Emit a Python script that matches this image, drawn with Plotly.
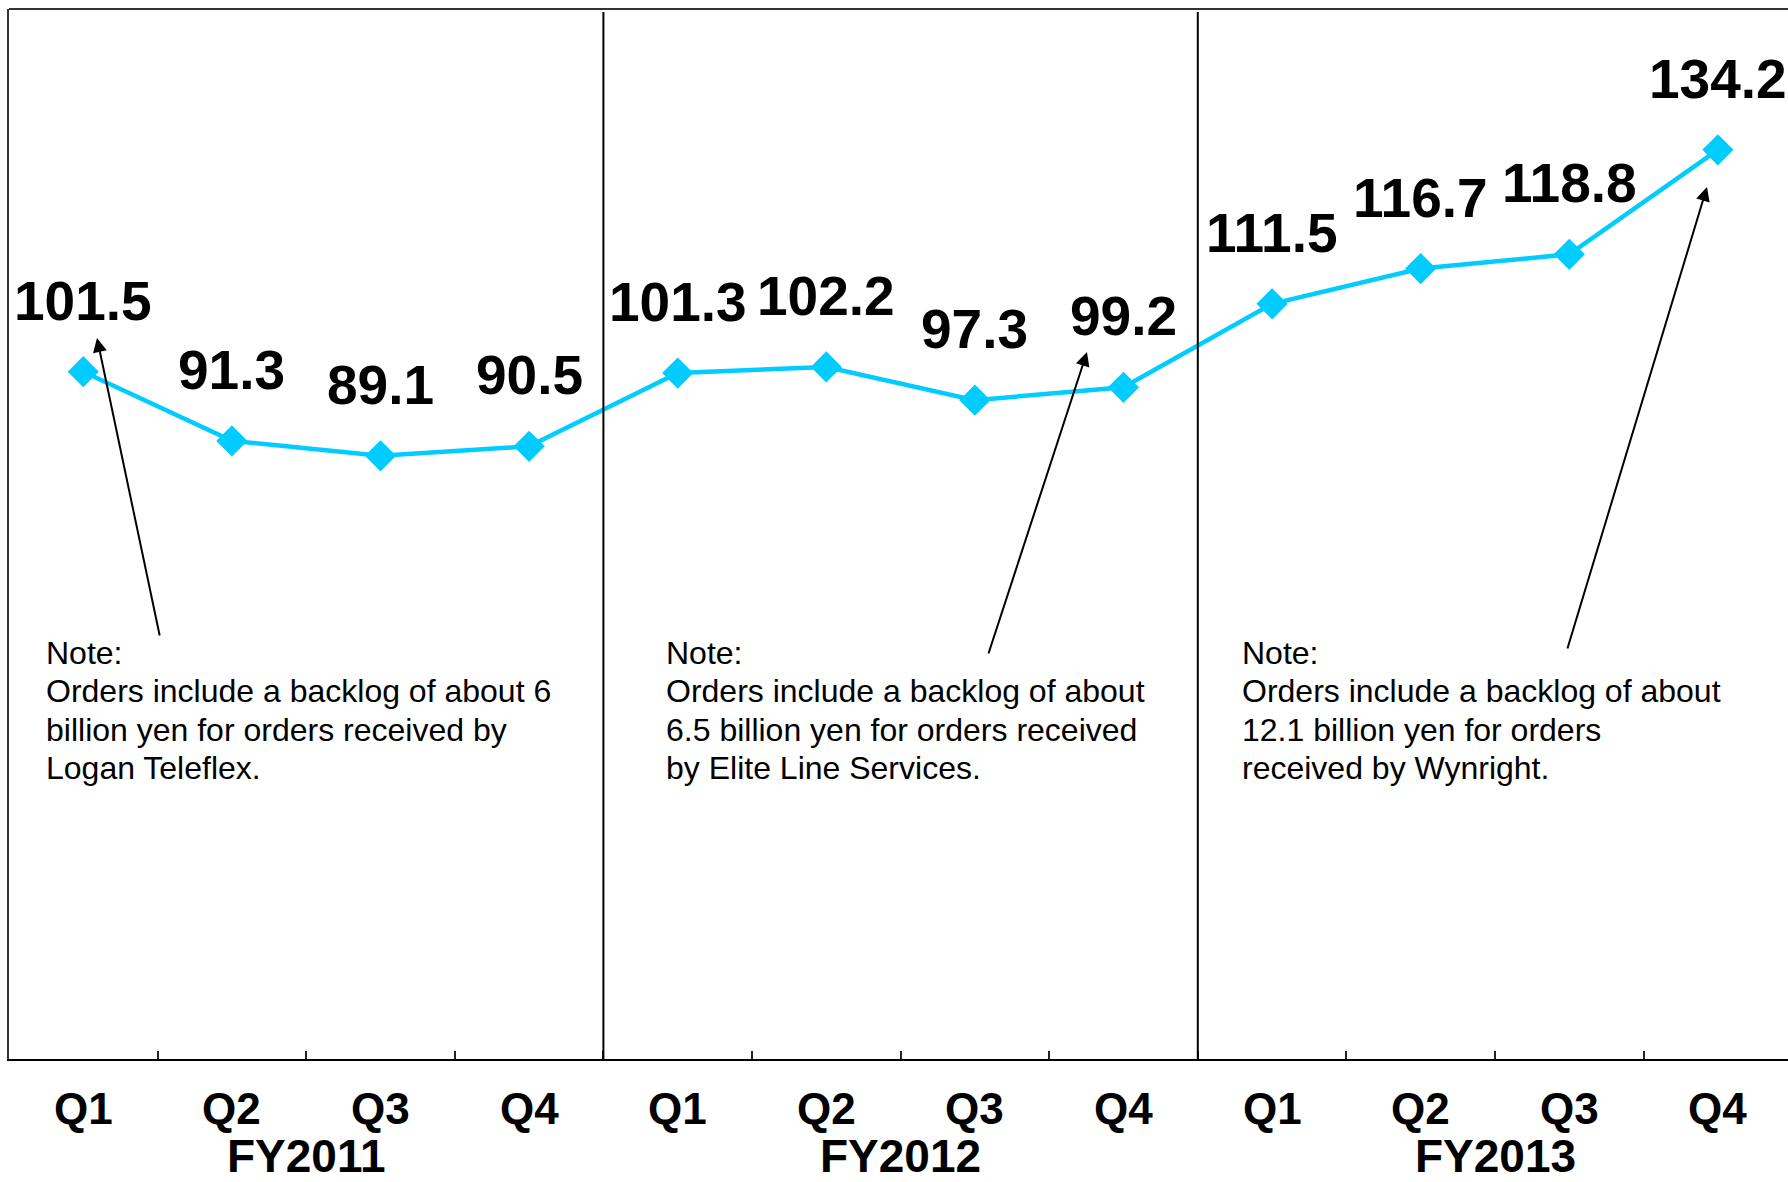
import plotly.graph_objects as go

# Quarterly orders received (billion yen)
quarters = ["Q1", "Q2", "Q3", "Q4", "Q1", "Q2", "Q3", "Q4", "Q1", "Q2", "Q3", "Q4"]
fiscal_years = ["FY2011", "FY2012", "FY2013"]
orders = [101.5, 91.3, 89.1, 90.5, 101.3, 102.2, 97.3, 99.2, 111.5, 116.7, 118.8, 134.2]

note_lines = [
    ["Note:", "Orders include a backlog of about 6",
     "billion yen for orders received by", "Logan Teleflex."],
    ["Note:", "Orders include a backlog of about",
     "6.5 billion yen for orders received", "by Elite Line Services."],
    ["Note:", "Orders include a backlog of about",
     "12.1 billion yen for orders", "received by Wynright."],
]

W, H = 1788, 1182
ML, MR, MT, MB = 9, 0, 9, 123
PW, PH = W - ML - MR, H - MT - MB
STEP = 148.6                      # pixels per quarter
PX_PER_UNIT = 6.785               # pixels per billion yen
X_RANGE = [-0.5, -0.5 + PW / STEP]
Y_RANGE = [0.2, 0.2 + PH / PX_PER_UNIT]

FONT = "Arial, Liberation Sans, sans-serif"
CYAN = "#00CCFF"


def paper_x(px):
    return (px - ML) / PW


def paper_y(py):
    return (MT + PH - py) / PH


fig = go.Figure()
fig.add_trace(go.Scatter(
    x=list(range(len(orders))), y=orders, mode="lines+markers",
    line=dict(color=CYAN, width=4.5),
    marker=dict(symbol="diamond", size=24, color=CYAN),
    hoverinfo="skip", showlegend=False,
))

ann = []
# value labels above each point
for i, v in enumerate(orders):
    ann.append(dict(x=i, y=v, xref="x", yref="y", text=f"<b>{v:.1f}</b>",
                    showarrow=False, xanchor="center", yanchor="middle",
                    yshift=71, font=dict(family=FONT, size=55, color="black")))

# quarter labels and fiscal-year labels under the axis
for i, q in enumerate(quarters):
    ann.append(dict(x=i, y=0, xref="x", yref="paper", text=f"<b>{q}</b>",
                    showarrow=False, xanchor="center", yanchor="middle",
                    yshift=-49, font=dict(family=FONT, size=44, color="black")))
for k, fy in enumerate(fiscal_years):
    ann.append(dict(x=4 * k + 1.5, y=0, xref="x", yref="paper", text=f"<b>{fy}</b>",
                    showarrow=False, xanchor="center", yanchor="middle",
                    yshift=-97, font=dict(family=FONT, size=46, color="black")))

# note blocks
note_left = [43.5, 663.5, 1239.5]
line_centers = [653, 691, 729.5, 768]
for k, lines in enumerate(note_lines):
    for j, t in enumerate(lines):
        ann.append(dict(x=paper_x(note_left[k]), y=paper_y(line_centers[j]),
                        xref="paper", yref="paper", text=t, showarrow=False,
                        xanchor="left", yanchor="middle",
                        font=dict(family=FONT, size=32, color="black")))

# arrows from the notes to the quarters they refer to
arrows = [((97, 338), (160, 637)), ((1087, 352), (988, 655)), ((1707, 187), (1567, 650))]
for (hx, hy), (tx, ty) in arrows:
    ann.append(dict(x=paper_x(hx), y=paper_y(hy), xref="paper", yref="paper",
                    ax=tx - hx, ay=ty - hy, axref="pixel", ayref="pixel",
                    text="", showarrow=True, arrowhead=2, arrowsize=1.4,
                    arrowwidth=2, arrowcolor="black", standoff=0))

shapes = [
    # top frame line
    dict(type="line", xref="paper", yref="paper", x0=0, x1=1, y0=1, y1=1,
         line=dict(color="#333333", width=2)),
]
# fiscal-year dividers
for b in (3.5, 7.5):
    shapes.append(dict(type="line", xref="x", yref="paper", x0=b, x1=b,
                       y0=0, y1=paper_y(12), line=dict(color="black", width=2)))

fig.update_layout(
    width=W, height=H,
    margin=dict(l=ML, r=MR, t=MT, b=MB, pad=0),
    paper_bgcolor="white", plot_bgcolor="white",
    annotations=ann, shapes=shapes,
    xaxis=dict(range=X_RANGE, showgrid=False, zeroline=False,
               showline=True, linecolor="black", linewidth=2,
               tickvals=[i + 0.5 for i in range(len(orders))],
               ticktext=["" for _ in orders],
               ticks="inside", ticklen=8, tickwidth=1.5, tickcolor="#222222"),
    yaxis=dict(range=Y_RANGE, showgrid=False, zeroline=False,
               showline=True, linecolor="#333333", linewidth=2,
               showticklabels=False, ticks=""),
)

fig.write_html("out.html")
